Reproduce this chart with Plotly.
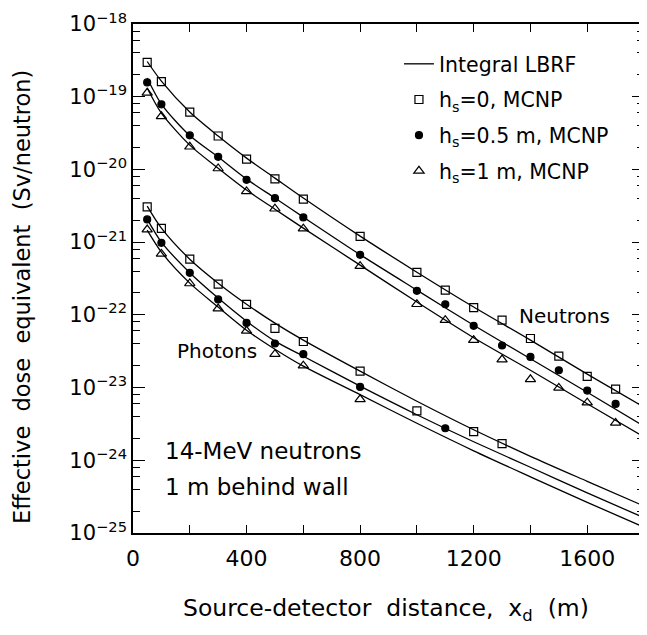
import plotly.graph_objects as go

# ---------------- data ----------------
# MCNP points, neutrons
xn = [50, 100, 200, 300, 400, 500, 600, 800, 1000, 1100, 1200, 1300, 1400, 1500, 1600, 1700]
n_hs0 = [2.97e-19, 1.61e-19, 6.15e-20, 2.88e-20, 1.39e-20, 7.4e-21, 3.9e-21, 1.2e-21,
         3.83e-22, 2.19e-22, 1.26e-22, 8.45e-23, 4.73e-23, 2.7e-23, 1.43e-23, 9.5e-24]
n_hs05 = [1.57e-19, 7.85e-20, 2.94e-20, 1.49e-20, 7.2e-21, 4.03e-21, 2.19e-21, 6.7e-22,
          2.14e-22, 1.4e-22, 7.06e-23, 3.79e-23, 2.64e-23, 1.73e-23, 9.1e-24, 5.96e-24]
n_hs1 = [1.13e-19, 5.37e-20, 2.05e-20, 1.03e-20, 4.99e-21, 2.88e-21, 1.53e-21, 4.68e-22,
         1.4e-22, 8.45e-23, 4.49e-23, 2.43e-23, 1.3e-23, 9.9e-24, 6.2e-24, 3.27e-24]

# MCNP points, photons
xp_hs0 = [50, 100, 200, 300, 400, 500, 600, 800, 1000, 1200, 1300]
p_hs0 = [3.06e-21, 1.55e-21, 5.83e-22, 2.64e-22, 1.39e-22, 6.5e-23, 4.3e-23, 1.68e-23,
         4.78e-24, 2.48e-24, 1.7e-24]
xp_hs05 = [50, 100, 200, 300, 400, 500, 600, 800, 1100]
p_hs05 = [2.05e-21, 9.8e-22, 3.78e-22, 1.63e-22, 7.75e-23, 4.04e-23, 2.88e-23, 1.02e-23, 2.76e-24]
xp_hs1 = [50, 100, 200, 300, 400, 500, 600, 800]
p_hs1 = [1.49e-21, 6.9e-22, 2.7e-22, 1.22e-22, 6.03e-23, 2.88e-23, 2.0e-23, 6.9e-24]

# Integral LBRF curves
xc = [50, 100, 200, 300, 400, 500, 600, 800, 1000, 1200, 1400, 1600, 1800]
lbrf_n_hs0 = [3.05e-19, 1.64e-19, 6.15e-20, 2.88e-20, 1.43e-20, 7.60e-21, 4.04e-21, 1.21e-21,
              3.86e-22, 1.28e-22, 4.49e-23, 1.53e-23, 5.37e-24]
lbrf_n_hs05 = [1.81e-19, 7.93e-20, 2.92e-20, 1.48e-20, 7.36e-21, 4.04e-21, 2.21e-21, 6.73e-22,
               2.19e-22, 7.21e-23, 2.49e-23, 8.63e-24, 2.94e-24]
lbrf_n_hs1 = [1.32e-19, 5.96e-20, 2.16e-20, 1.04e-20, 5.20e-21, 2.84e-21, 1.56e-21, 4.83e-22,
              1.50e-22, 4.85e-23, 1.73e-23, 6.00e-24, 2.09e-24]
lbrf_p_hs0 = [3.13e-21, 1.56e-21, 5.83e-22, 2.73e-22, 1.40e-22, 7.69e-23, 4.49e-23, 1.68e-23,
              6.49e-24, 2.63e-24, 1.135e-24, 5.14e-25, 2.35e-25]
lbrf_p_hs05 = [2.07e-21, 1.00e-21, 3.80e-22, 1.70e-22, 8.18e-23, 4.35e-23, 2.70e-23, 1.045e-23,
               4.23e-24, 1.80e-24, 8.02e-25, 3.57e-25, 1.62e-25]
lbrf_p_hs1 = [1.46e-21, 7.29e-22, 2.73e-22, 1.28e-22, 6.15e-23, 3.37e-23, 1.97e-23, 7.98e-24,
              3.23e-24, 1.35e-24, 5.93e-25, 2.64e-25, 1.20e-25]

# axes
y_decades = [-25, -24, -23, -22, -21, -20, -19, -18]
x_ticks = [0, 400, 800, 1200, 1600]

FONT = "DejaVu Sans"
BLACK = "black"

fig = go.Figure()

curves = [lbrf_n_hs0, lbrf_n_hs05, lbrf_n_hs1, lbrf_p_hs0, lbrf_p_hs05, lbrf_p_hs1]
for i, cy in enumerate(curves):
    fig.add_trace(go.Scatter(
        x=xc, y=cy, mode="lines", line=dict(color=BLACK, width=1.3, shape="spline", smoothing=0.8),
        name="Integral LBRF", legendgroup="lbrf", showlegend=(i == 0), hoverinfo="skip"))

marker_sets = [
    ("h<sub>s</sub>=0, MCNP", "square-open", 8, [(xn, n_hs0), (xp_hs0, p_hs0)]),
    ("h<sub>s</sub>=0.5 m, MCNP", "circle", 7, [(xn, n_hs05), (xp_hs05, p_hs05)]),
    ("h<sub>s</sub>=1 m, MCNP", "triangle-up-open", 9, [(xn, n_hs1), (xp_hs1, p_hs1)]),
]
for name, sym, size, sets in marker_sets:
    for j, (xx, yy) in enumerate(sets):
        fig.add_trace(go.Scatter(
            x=xx, y=yy, mode="markers", name=name, legendgroup=name, showlegend=(j == 0),
            marker=dict(symbol=sym, size=size, color=BLACK, line=dict(color=BLACK, width=1.2))))

minor_y = []
for d in y_decades[:-1]:
    for m in (2, 4, 6, 8):
        minor_y.append(m * 10.0 ** d)

fig.update_xaxes(
    range=[0, 1800], tickmode="array", tickvals=x_ticks, ticktext=[str(v) for v in x_ticks],
    ticks="inside", ticklen=8, tickwidth=1.3, tickcolor=BLACK,
    minor=dict(tickmode="linear", tick0=0, dtick=200, ticks="inside", ticklen=8, tickwidth=1.3, tickcolor=BLACK),
    showline=True, linecolor=BLACK, linewidth=1.5, mirror="ticks", showgrid=False, zeroline=False,
    tickfont=dict(family=FONT, size=22, color=BLACK), ticklabelstandoff=5)
fig.update_yaxes(
    type="log", range=[-25, -18], tickmode="array",
    tickvals=[10.0 ** d for d in y_decades],
    ticktext=["10<sup>\u2212%d</sup>" % (-d) for d in y_decades],
    ticks="inside", ticklen=12, tickwidth=1.3, tickcolor=BLACK,
    minor=dict(tickmode="array", tickvals=minor_y, ticks="inside", ticklen=7, tickwidth=1.3, tickcolor=BLACK),
    showline=True, linecolor=BLACK, linewidth=1.5, mirror="ticks", showgrid=False, zeroline=False,
    tickfont=dict(family=FONT, size=21, color=BLACK), ticklabelstandoff=0)

# the page body adds an 8 px offset; compensate so the plot frame lands where the reference has it
OFF = 8
W, H = 647 - OFF, 635 - OFF
L, R, T, B = 133 - OFF, 1, 24 - OFF, 102
pw, ph = W - L - R, H - T - B

def px(xp):
    return (xp - OFF - L) / pw

def py(yp):
    return (H - B - (yp - OFF)) / ph

annos = [
    dict(text="Neutrons", x=px(566), y=py(315.5), size=20, xanchor="center", angle=0),
    dict(text="Photons", x=px(217), y=py(351), size=20, xanchor="center", angle=0),
    dict(text="14-MeV neutrons", x=px(163), y=py(450.5), size=23, xanchor="left", angle=0),
    dict(text="1 m behind wall", x=px(163), y=py(487), size=23, xanchor="left", angle=0),
    dict(text="Source-detector\u00a0 distance,\u00a0 x<sub>d</sub>\u00a0 (m)", x=px(387), y=py(609.5),
         size=23.5, xanchor="center", angle=0),
    dict(text="Effective\u00a0 dose\u00a0 equivalent\u00a0 (Sv/neutron)", x=px(21.5), y=py(297),
         size=22.5, xanchor="center", angle=-90),
]
for a in annos:
    fig.add_annotation(text=a["text"], x=a["x"], y=a["y"], xref="paper", yref="paper",
                       xanchor=a["xanchor"], yanchor="middle", showarrow=False, textangle=a["angle"],
                       font=dict(family=FONT, size=a["size"], color=BLACK))

fig.update_layout(
    width=W, height=H, margin=dict(l=L, r=R, t=T, b=B, pad=0),
    paper_bgcolor="white", plot_bgcolor="white",
    font=dict(family=FONT, color=BLACK),
    legend=dict(x=px(400), y=py(44), xanchor="left", yanchor="top", bgcolor="rgba(0,0,0,0)",
                font=dict(family=FONT, size=20.5, color=BLACK), itemwidth=30,
                tracegroupgap=6),
)

fig.write_html("out.html")
